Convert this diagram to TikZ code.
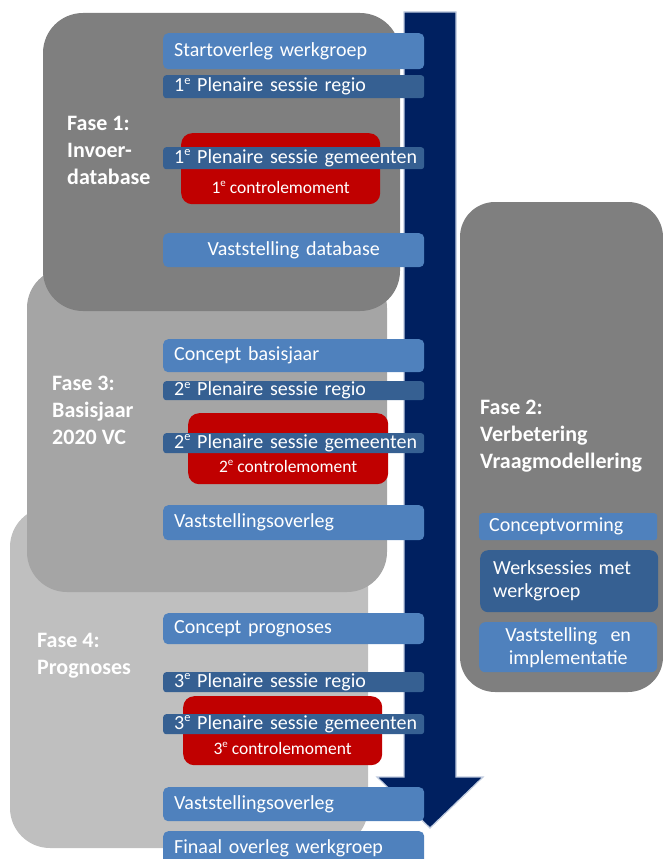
\documentclass[tikz,border=0pt]{standalone}
\usepackage{fontspec}
\setmainfont{Carlito}
\usepackage{tikz}
\usetikzlibrary{positioning}
\definecolor{lightblue}{HTML}{4F81BD}
\definecolor{darkblue}{HTML}{366092}
\definecolor{ctrlred}{HTML}{C00000}
\definecolor{navy}{HTML}{002060}
\definecolor{phasedark}{HTML}{7F7F7F}
\definecolor{phasemid}{HTML}{A5A5A5}
\definecolor{phaselight}{HTML}{BFBFBF}
% 1e, 2e, 3e with a small raised e
\newcommand{\ordnum}[1]{#1\raisebox{0.38em}{\scalebox{0.62}{e}}}

\begin{document}
\begin{tikzpicture}[x=1pt, y=-1pt, phase/.style={rounded corners=40pt}, phaselabel/.style={anchor=west,align=left,text=white,inner sep=0pt,font=\bfseries\fontsize{22}{27}\selectfont}, task/.style={anchor=north west,fill=lightblue,text=white,rounded corners=5pt,text width=239pt,inner xsep=11pt,inner ysep=0pt,align=left,font=\fontsize{20}{23}\selectfont}, session/.style={task,fill=darkblue,rounded corners=3pt}, subtask/.style={task,text width=158pt,inner xsep=10pt}, ctrl/.style={anchor=north west,fill=ctrlred,rounded corners=11pt,inner sep=0pt}, ctrltext/.style={text=white,inner sep=0pt,font=\fontsize{17.5}{20}\selectfont}]
\useasboundingbox (0,0) rectangle (662,859);
% phase blocks, lightest one at the back
\fill[phaselight,phase] (10,507) rectangle (368,848);
\fill[phasemid,phase] (27,268) rectangle (387,592);
\fill[phasedark,phase] (43,13) rectangle (400,311);
\fill[phasedark,rounded corners=35pt] (460,202) rectangle (663,692);
\node[phaselabel] (f1) at (67,150) {Fase 1:\\Invoer-\\database};
\node[phaselabel] (f3) at (52,410) {Fase 3:\\Basisjaar\\2020 VC};
\node[phaselabel] (f4) at (37,656) {Fase 4:\\Prognoses};
\node[phaselabel] (f2) at (480,436) {Fase 2:\\Verbetering\\Vraagmodellering};
% time line
\filldraw[fill=navy,draw={rgb,255:red,190;green,202;blue,222},line width=1.2pt] (404,12) -- (456,12) -- (456,777) -- (483,777) -- (430,828) -- (377,777) -- (404,777) -- cycle;
% control moments
\node[ctrl,minimum width=199pt,minimum height=71pt] (ctrl1) at (181,133) {};
\node[ctrl,minimum width=200pt,minimum height=71pt] (ctrl2) at (188,413) {};
\node[ctrl,minimum width=199pt,minimum height=69pt] (ctrl3) at (183,696) {};
\node[ctrltext,above=11pt of ctrl1.south] (c1) {\ordnum{1} controlemoment};
\node[ctrltext,above=12pt of ctrl2.south] (c2) {\ordnum{2} controlemoment};
\node[ctrltext,above=11pt of ctrl3.south] (c3) {\ordnum{3} controlemoment};
% phase 1
\node[task,minimum height=36pt] (start) at (163,33) {Startoverleg werkgroep};
\node[session,minimum height=23pt] (regio1) at (163,75) {\ordnum{1} Plenaire sessie regio};
\node[session,minimum height=22pt] (gem1) at (163,147) {\mbox{\ordnum{1} Plenaire sessie gemeenten}};
\node[task,minimum height=34pt,align=center] (vastdb) at (163,233) {Vaststelling database};
% phase 3
\node[task,minimum height=33pt] (basis) at (163,339) {Concept basisjaar};
\node[session,minimum height=19pt] (regio2) at (163,381) {\ordnum{2} Plenaire sessie regio};
\node[session,minimum height=20pt] (gem2) at (163,433) {\mbox{\ordnum{2} Plenaire sessie gemeenten}};
\node[task,minimum height=35pt] (vast3) at (163,505) {Vaststellingsoverleg};
% phase 4
\node[task,minimum height=31pt] (prog) at (163,613) {Concept prognoses};
\node[session,minimum height=20pt] (regio3) at (163,672) {\ordnum{3} Plenaire sessie regio};
\node[session,minimum height=20pt] (gem3) at (163,714) {\mbox{\ordnum{3} Plenaire sessie gemeenten}};
\node[task,minimum height=34pt] (vast4) at (163,787) {Vaststellingsoverleg};
\node[task,minimum height=34pt] (finaal) at (163,831) {Finaal overleg werkgroep};
% phase 2
\node[subtask,minimum height=27pt,rounded corners=3pt] (concept) at (479,513) {Conceptvorming};
\node[subtask,fill=darkblue,minimum height=62pt,rounded corners=8pt,inner xsep=13pt,text width=152pt] (werk) at (480,550) {Werksessies met\\werkgroep};
\node[subtask,minimum height=50pt,rounded corners=6pt,align=center] (impl) at (479,622) {Vaststelling~ en\\implementatie};
\end{tikzpicture}
\end{document}
